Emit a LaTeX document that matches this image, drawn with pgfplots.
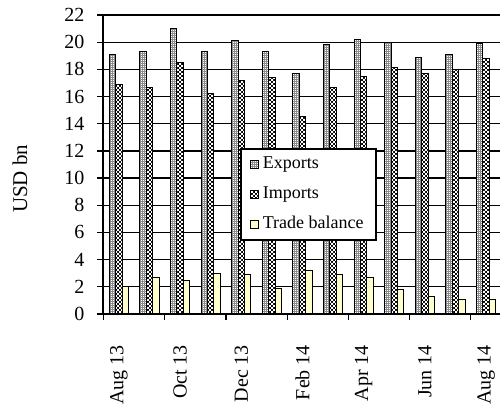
\documentclass[border=0pt]{standalone}
\usepackage{fontspec}
\setmainfont{Liberation Serif}
\usepackage{pgfplots}
\pgfplotsset{compat=1.18}
\usetikzlibrary{patterns}
\pgfdeclarepatternformonly{mycheck}{\pgfpointorigin}{\pgfqpoint{2pt}{2pt}}{\pgfqpoint{2pt}{2pt}}{%
 \pgfpathrectangle{\pgfpointorigin}{\pgfqpoint{1pt}{1pt}}%
 \pgfpathrectangle{\pgfqpoint{1pt}{1pt}}{\pgfqpoint{1pt}{1pt}}%
 \pgfusepath{fill}}
\pgfdeclarepatternformonly{mydots}{\pgfpointorigin}{\pgfqpoint{1.2pt}{1.2pt}}{\pgfqpoint{1.2pt}{1.2pt}}{%
 \pgfpathrectangle{\pgfpointorigin}{\pgfqpoint{0.5pt}{0.5pt}}%
 \pgfusepath{fill}}
\definecolor{tbyellow}{HTML}{FFFFCC}
\pgfplotsset{sqleg/.style={legend image code/.code={\draw[##1] (0pt,-2pt) rectangle (4pt,2pt);}}}
\begin{document}
\begin{tikzpicture}[font=\fontsize{10}{12}\selectfont]
\useasboundingbox (0,0) rectangle (250pt,202.5pt);
\begin{axis}[
  at={(51.75pt,45.5pt)}, anchor=south west,
  scale only axis, width=199pt, height=149.5pt,
  ybar=0pt, bar width=0.21,
  xmin=-0.5, xmax=12.5, ymin=0, ymax=22,
  ytick={0,2,...,22},
  ymajorgrids, grid style={black, line width=0.6pt},
  axis line style={line width=1pt},
  tick align=outside, tick pos=left,
  major tick length=3pt, tick style={black, line width=0.6pt},
  xtick={-0.5,1.5,...,11.5}, xticklabels={,,,,,,,},
  extra x ticks={0,2,...,12},
  extra x tick labels={Aug 13,Oct 13,Dec 13,Feb 14,Apr 14,Jun 14,Aug 14},
  extra x tick style={tick style={draw=none}},
  xticklabel style={rotate=90, anchor=east, font=\fontsize{10}{12}\selectfont},
  xticklabel shift=9pt,
  yticklabel style={font=\fontsize{10}{12}\selectfont},
  yticklabel shift=3pt,
  /pgf/number format/assume math mode=true,
  ylabel={USD bn},
  ylabel style={at={(rel axis cs:0,0.452)}, anchor=center, yshift=41.75pt, font=\fontsize{10.5}{12}\selectfont},
  legend style={at={(rel axis cs:0.344,0.555)}, anchor=north west,
    draw=black, line width=0.8pt, fill=white,
    font=\fontsize{9}{10}\selectfont,
    inner xsep=4.5pt, inner ysep=2.5pt, row sep=4.5pt,
    nodes={inner ysep=1.5pt, inner xsep=1.8pt}},
  legend cell align=left,
]
\addplot[draw=black, line width=0.5pt, fill=black!45,
  postaction={pattern=mydots, pattern color=white}, sqleg]
  coordinates {(0,19.1) (1,19.3) (2,21.0) (3,19.3) (4,20.1) (5,19.3) (6,17.7) (7,19.8) (8,20.2) (9,20.0) (10,18.9) (11,19.1) (12,19.9)};
\addplot[draw=black, line width=0.5pt, fill=black,
  postaction={pattern=mycheck, pattern color=white}, sqleg]
  coordinates {(0,16.9) (1,16.7) (2,18.5) (3,16.2) (4,17.2) (5,17.4) (6,14.5) (7,16.7) (8,17.5) (9,18.1) (10,17.7) (11,18.0) (12,18.8)};
\addplot[draw=black, line width=0.5pt, fill=tbyellow, sqleg]
  coordinates {(0,2.0) (1,2.7) (2,2.5) (3,3.0) (4,2.9) (5,1.9) (6,3.2) (7,2.9) (8,2.7) (9,1.8) (10,1.3) (11,1.1) (12,1.1)};
\legend{Exports,Imports,Trade balance}
\end{axis}
\end{tikzpicture}
\end{document}
